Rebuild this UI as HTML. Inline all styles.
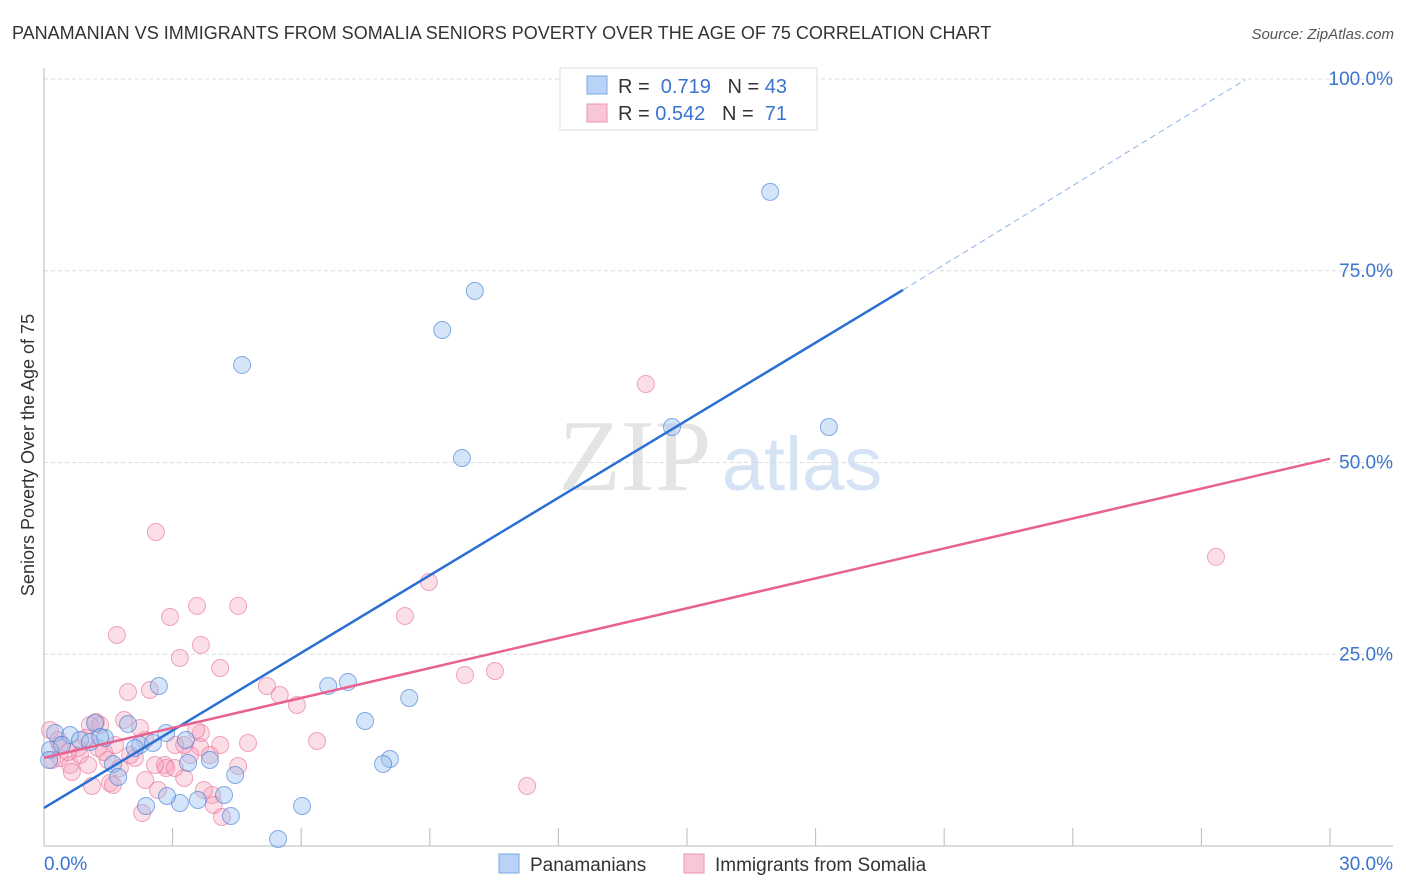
<!DOCTYPE html>
<html><head><meta charset="utf-8"><style>
body{margin:0;background:#fff;font-family:"Liberation Sans",sans-serif;}
svg{display:block}
</style></head><body>
<svg id="chart" width="1406" height="892" xmlns="http://www.w3.org/2000/svg">
<text x="12" y="39" font-size="18" fill="#333">PANAMANIAN VS IMMIGRANTS FROM SOMALIA SENIORS POVERTY OVER THE AGE OF 75 CORRELATION CHART</text>
<text x="1394" y="39" font-size="15" fill="#555" font-style="italic" text-anchor="end">Source: ZipAtlas.com</text>
<text x="635" y="490" font-size="102" fill="#e4e4e4" font-family="Liberation Serif,serif" text-anchor="middle">ZIP</text>
<text x="802" y="490" font-size="76" fill="#d5e3f5" text-anchor="middle">atlas</text>
<g id="grid"></g>
<g id="axes"></g>
<g id="pts"></g>
<g id="lines"></g>
<text transform="translate(34,455) rotate(-90)" font-size="18" fill="#333" text-anchor="middle">Seniors Poverty Over the Age of 75</text>
<g>
<rect x="560" y="68" width="257" height="62" fill="#fff" stroke="#ddd"/>
<rect x="587" y="76" width="20" height="18" fill="#b8d3f5" stroke="#7aa7e3"/>
<rect x="587" y="104" width="20" height="18" fill="#f9c6d5" stroke="#eb95b0"/>
<text x="618" y="93" font-size="20" fill="#333">R = <tspan fill="#3a73d0">&#160;0.719</tspan>&#160;&#160;&#160;N = <tspan fill="#3a73d0">43</tspan></text>
<text x="618" y="120" font-size="20" fill="#333">R = <tspan fill="#3a73d0">0.542</tspan>&#160;&#160;&#160;N = <tspan fill="#3a73d0">&#160;71</tspan></text>
</g>
<g>
<rect x="499" y="854" width="20" height="19" fill="#b8d3f5" stroke="#7aa7e3"/>
<text x="530" y="871" font-size="19" fill="#333">Panamanians</text>
<rect x="684" y="854" width="20" height="19" fill="#f9c6d5" stroke="#eb95b0"/>
<text x="715" y="871" font-size="19" fill="#333">Immigrants from Somalia</text>
</g>
</svg>
<script>
const blueX=[16.94,10.05,9.29,4.62,14.65,18.31,9.75,2.68,6.63,7.09,8.52,7.49,8.07,7.91,5.46,6.02,2.38,3.17,3.59,4.20,4.36,2.87,4.46,3.87,3.36,1.61,1.73,1.96,2.24,2.54,2.85,3.31,0.26,0.61,0.84,1.19,1.42,0.14,0.42,1.07,1.31,2.12,0.12];
const blueY=[85.28,72.37,67.28,62.72,54.63,54.63,50.59,20.86,20.86,21.39,19.30,16.30,11.34,10.69,0.91,5.22,5.22,5.61,6.00,6.65,3.91,6.52,9.26,11.21,10.82,10.69,9.00,15.91,13.17,13.43,14.74,13.82,14.74,14.47,13.82,16.04,14.08,12.52,13.17,13.56,14.21,12.78,11.21];
const pinkX=[27.34,14.04,2.61,8.98,8.42,4.53,3.57,2.94,1.70,3.66,3.17,4.11,9.82,10.52,5.20,5.50,5.90,1.96,2.47,6.37,11.27,4.76,4.11,3.64,3.66,3.06,3.41,2.82,2.36,1.87,1.21,1.07,0.14,0.37,0.61,0.84,1.03,1.26,1.49,1.77,2.12,1.54,1.12,1.61,2.36,2.66,2.29,3.27,3.27,2.85,3.92,3.96,4.15,4.53,0.65,0.33,0.79,0.56,1.40,0.98,3.55,2.01,2.59,3.05,3.73,0.19,1.66,0.37,1.31,3.87,2.24];
const pinkY=[37.69,60.24,40.94,34.42,29.99,31.30,31.30,29.86,27.51,26.21,24.51,23.21,22.30,22.82,20.86,19.69,18.39,20.08,20.34,13.69,7.82,13.43,13.17,12.91,14.74,13.17,11.87,10.56,13.82,16.43,16.17,15.78,15.13,11.47,10.56,11.87,10.56,12.78,11.21,10.17,11.47,8.21,7.82,7.95,8.61,7.30,4.30,8.87,13.17,10.17,6.65,5.35,3.78,10.43,9.65,13.82,12.78,12.26,12.26,14.08,15.13,11.87,10.56,10.17,7.30,11.21,13.17,13.17,15.78,11.87,15.39];
const yTicks=[25,50,75,100];
const yTickLabels=["25.0%","50.0%","75.0%","100.0%"];
const xTicks=[0,3,6,9,12,15,18,21,24,27,30];
const blueTrend=[[0,4.96],[20.04,72.5],[28.02,99.9]];
const pinkTrend=[[0,11.5],[30,50.5]];
const NS="http://www.w3.org/2000/svg";
const X=v=>44+v*1286/30, Y=v=>846-v*7.67;
function mk(t,a,p){const e=document.createElementNS(NS,t);for(const k in a)e.setAttribute(k,a[k]);p.appendChild(e);return e;}
const grid=document.getElementById('grid'),axes=document.getElementById('axes'),pts=document.getElementById('pts'),lines=document.getElementById('lines');
yTicks.forEach((v,i)=>{
 const l=mk('line',{x1:44,x2:1393,y1:Y(v),y2:Y(v),stroke:'#ddd','stroke-dasharray':'4,3'},grid);
 
 
 const t=mk('text',{x:1393,y:Y(v)+6,'font-size':19,fill:'#3a73d0','text-anchor':'end'},axes);
 t.textContent=yTickLabels[i];
 
 
});
const ya=mk('line',{x1:44,x2:44,y1:68,y2:846,stroke:'#bbb'},axes);


const xa=mk('line',{x1:44,x2:1393,y1:846,y2:846,stroke:'#bbb'},axes);


xTicks.forEach(v=>{
 const l=mk('line',{x1:X(v),x2:X(v),y1:828,y2:846,stroke:'#bbb'},axes);
 
 
});
[[0,"0.0%","start",44],[30,"30.0%","end",1393]].forEach(a=>{
 const t=mk('text',{x:a[3],y:870,'font-size':19,fill:'#3a73d0','text-anchor':a[2]},axes);
 t.textContent=a[1];
 
 
});
pinkX.forEach((v,i)=>{
 const c=mk('circle',{cx:X(v),cy:Y(pinkY[i]),r:8.5,fill:'rgba(245,160,185,0.35)',stroke:'rgba(230,110,150,0.6)','stroke-width':1},pts);
 
 
});
blueX.forEach((v,i)=>{
 const c=mk('circle',{cx:X(v),cy:Y(blueY[i]),r:8.5,fill:'rgba(150,190,240,0.4)',stroke:'rgba(60,120,210,0.6)','stroke-width':1},pts);
 
 
});
const b1=mk('line',{x1:X(blueTrend[0][0]),y1:Y(blueTrend[0][1]),x2:X(blueTrend[1][0]),y2:Y(blueTrend[1][1]),stroke:'#2a6fd4','stroke-width':2.5},lines);


const b2=mk('line',{x1:X(blueTrend[1][0]),y1:Y(blueTrend[1][1]),x2:X(blueTrend[2][0]),y2:Y(blueTrend[2][1]),stroke:'#8fb3e6','stroke-width':1,'stroke-dasharray':'6,4'},lines);


const p1=mk('line',{x1:X(pinkTrend[0][0]),y1:Y(pinkTrend[0][1]),x2:X(pinkTrend[1][0]),y2:Y(pinkTrend[1][1]),stroke:'#e8628f','stroke-width':2.5},lines);


</script>
</body></html>
